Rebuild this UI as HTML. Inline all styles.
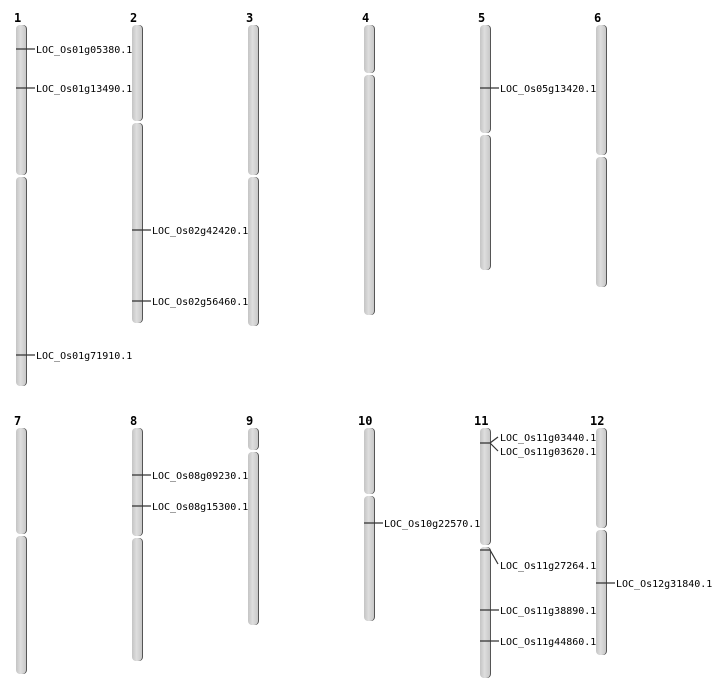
<!DOCTYPE html>
<html><head><meta charset="utf-8"><style>
html,body{margin:0;padding:0;background:#fff;}
svg{display:block;}
text{font-family:"DejaVu Sans Mono","Liberation Mono",monospace;font-size:10px;fill:#000;}
.n{font-family:"DejaVu Sans Mono","Liberation Mono",monospace;font-weight:bold;font-size:12px;}
</style></head><body>
<svg width="712" height="700" xmlns="http://www.w3.org/2000/svg">
<defs><linearGradient id="g" x1="0" x2="1" y1="0" y2="0">
<stop offset="0" stop-color="#c4c4c4"/><stop offset="0.45" stop-color="#dedede"/><stop offset="1" stop-color="#c8c8c8"/></linearGradient></defs>
<g id="chrs">
<!-- helper: shadow + arm -->
<g fill="#555">
<rect x="17" y="25" width="10" height="150" rx="4"/><rect x="17" y="177" width="10" height="209" rx="4"/>
<rect x="133" y="25" width="10" height="96" rx="4"/><rect x="133" y="123" width="10" height="200" rx="4"/>
<rect x="249" y="25" width="10" height="150" rx="4"/><rect x="249" y="177" width="10" height="149" rx="4"/>
<rect x="365" y="25" width="10" height="48" rx="4"/><rect x="365" y="75" width="10" height="240" rx="4"/>
<rect x="481" y="25" width="10" height="108" rx="4"/><rect x="481" y="135" width="10" height="135" rx="4"/>
<rect x="597" y="25" width="10" height="130" rx="4"/><rect x="597" y="157" width="10" height="130" rx="4"/>
<rect x="17" y="428" width="10" height="106" rx="4"/><rect x="17" y="536" width="10" height="138" rx="4"/>
<rect x="133" y="428" width="10" height="108" rx="4"/><rect x="133" y="538" width="10" height="123" rx="4"/>
<rect x="249" y="428" width="10" height="22" rx="4"/><rect x="249" y="452" width="10" height="173" rx="4"/>
<rect x="365" y="428" width="10" height="66" rx="4"/><rect x="365" y="496" width="10" height="125" rx="4"/>
<rect x="481" y="428" width="10" height="117" rx="4"/><rect x="481" y="547" width="10" height="131" rx="4"/>
<rect x="597" y="428" width="10" height="100" rx="4"/><rect x="597" y="530" width="10" height="125" rx="4"/>
</g>
<g fill="url(#g)">
<rect x="16" y="25" width="10" height="150" rx="4"/><rect x="16" y="177" width="10" height="209" rx="4"/>
<rect x="132" y="25" width="10" height="96" rx="4"/><rect x="132" y="123" width="10" height="200" rx="4"/>
<rect x="248" y="25" width="10" height="150" rx="4"/><rect x="248" y="177" width="10" height="149" rx="4"/>
<rect x="364" y="25" width="10" height="48" rx="4"/><rect x="364" y="75" width="10" height="240" rx="4"/>
<rect x="480" y="25" width="10" height="108" rx="4"/><rect x="480" y="135" width="10" height="135" rx="4"/>
<rect x="596" y="25" width="10" height="130" rx="4"/><rect x="596" y="157" width="10" height="130" rx="4"/>
<rect x="16" y="428" width="10" height="106" rx="4"/><rect x="16" y="536" width="10" height="138" rx="4"/>
<rect x="132" y="428" width="10" height="108" rx="4"/><rect x="132" y="538" width="10" height="123" rx="4"/>
<rect x="248" y="428" width="10" height="22" rx="4"/><rect x="248" y="452" width="10" height="173" rx="4"/>
<rect x="364" y="428" width="10" height="66" rx="4"/><rect x="364" y="496" width="10" height="125" rx="4"/>
<rect x="480" y="428" width="10" height="117" rx="4"/><rect x="480" y="547" width="10" height="131" rx="4"/>
<rect x="596" y="428" width="10" height="100" rx="4"/><rect x="596" y="530" width="10" height="125" rx="4"/>
</g>
</g>
<g class="n">
<text class="n" x="14" y="22">1</text><text class="n" x="130" y="22">2</text><text class="n" x="246" y="22">3</text>
<text class="n" x="362" y="22">4</text><text class="n" x="478" y="22">5</text><text class="n" x="594" y="22">6</text>
<text class="n" x="14" y="425">7</text><text class="n" x="130" y="425">8</text><text class="n" x="246" y="425">9</text>
<text class="n" x="358" y="425">10</text><text class="n" x="474" y="425">11</text><text class="n" x="590" y="425">12</text>
</g>
<g stroke="#333" stroke-width="1.2" fill="none">
<path d="M16 49H35M16 88H35M16 355H35M132 230H151M132 301H151M480 88H499M132 475H151M132 506H151M364 523H383M480 610H499M480 641H499M596 583H615"/>
<path d="M480 443H490L498 437M490 443L498 451M480 550H490L498 564"/>
</g>
<g>
<text x="36" y="53">LOC_Os01g05380.1</text><text x="36" y="92">LOC_Os01g13490.1</text><text x="36" y="359">LOC_Os01g71910.1</text>
<text x="152" y="234">LOC_Os02g42420.1</text><text x="152" y="305">LOC_Os02g56460.1</text>
<text x="500" y="92">LOC_Os05g13420.1</text>
<text x="152" y="479">LOC_Os08g09230.1</text><text x="152" y="510">LOC_Os08g15300.1</text>
<text x="384" y="527">LOC_Os10g22570.1</text>
<text x="500" y="441">LOC_Os11g03440.1</text><text x="500" y="455">LOC_Os11g03620.1</text>
<text x="500" y="569">LOC_Os11g27264.1</text><text x="500" y="614">LOC_Os11g38890.1</text><text x="500" y="645">LOC_Os11g44860.1</text>
<text x="616" y="587">LOC_Os12g31840.1</text>
</g>
</svg>
</body></html>
